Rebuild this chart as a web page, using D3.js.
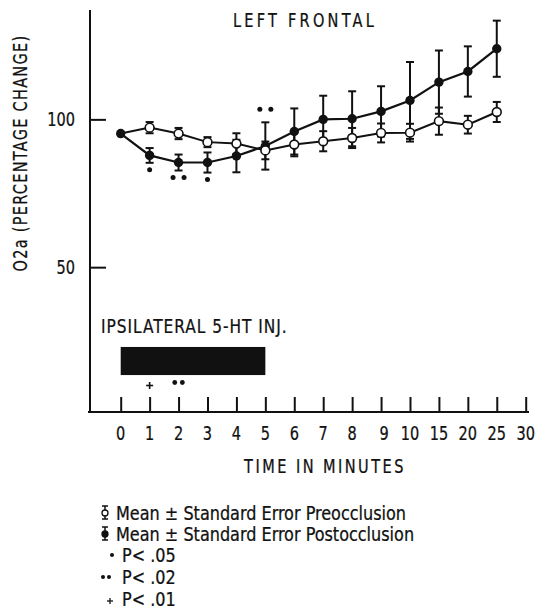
<!DOCTYPE html>
<html><head><meta charset="utf-8">
<script src="https://cdn.jsdelivr.net/npm/d3@7"></script>
<style>
html,body{margin:0;padding:0;background:#fff;}
svg text{font-family:"DejaVu Sans Condensed","DejaVu Sans",sans-serif;fill:#111;stroke:#111;stroke-width:0.25px;}
</style></head>
<body><svg id="c" width="538" height="615"></svg>
<script>
const categories = ['0','1','2','3','4','5','6','7','8','9','10','15','20','25','30'];
const dataTimes = ['0','1','2','3','4','5','6','7','8','9','10','15','20','25'];
const preMean  = [95.2, 97.2, 95.2, 92.3, 91.8, 89.5, 91.5, 92.6, 93.7, 95.4, 95.5, 99.4, 98.2, 102.5];
const preErr   = [0, 1.9, 1.9, 1.7, 3.5, 3.0, 4.0, 3.4, 3.4, 3.2, 3.0, 4.6, 3.0, 3.4];
const postMean = [95.2, 87.8, 85.4, 85.4, 87.6, 91.0, 95.9, 100.0, 100.2, 102.7, 106.4, 112.6, 116.2, 123.9];
const postErr  = [0, 2.5, 2.7, 3.4, 5.5, 8.0, 7.8, 8.0, 9.3, 8.5, 13.0, 10.7, 8.5, 9.5];
const yTicks = [50, 100];
const sigBelow = [{t:'1', n:1}, {t:'2', n:2}, {t:'3', n:1}];
const sigAbove = [{t:'5', n:2}];
const injection = {start:'0', end:'5', top:23, bottom:13.5};
const injSig = [{t:'1', mark:'+'}, {t:'2', mark:'••'}];
const title = 'LEFT FRONTAL';
const xTitle = 'TIME IN MINUTES';
const yTitle = 'O2a (PERCENTAGE CHANGE)';
const injLabel = 'IPSILATERAL 5-HT INJ.';
const legendItems = [
  {type:'pre', label:'Mean \u00B1 Standard Error Preocclusion'},
  {type:'post', label:'Mean \u00B1 Standard Error Postocclusion'},
  {type:'dot1', label:'P< .05'},
  {type:'dot2', label:'P< .02'},
  {type:'plus', label:'P< .01'}
];

const svg = d3.select('#c');
const x = d3.scalePoint().domain(categories).range([120.7, 525.7]);
const y = d3.scaleLinear().domain([1, 137]).range([412, 10]);
const FS = 19;

// text helper: compress horizontally to mimic condensed typeface
function txt(sel, s, xx, yy, opts){
  opts = opts || {};
  const sx = opts.sx || 0.85;
  const g = sel.append('g').attr('transform',`translate(${xx},${yy})${opts.rot?` rotate(${opts.rot})`:''} scale(${sx},1)`);
  return g.append('text').attr('x',0).attr('y',0).attr('dy','0.36em')
    .attr('text-anchor',opts.anchor||'start').attr('font-size',opts.fs||FS)
    .attr('letter-spacing',opts.ls||0).text(s);
}

// axes
svg.append('line').attr('x1',90).attr('x2',90).attr('y1',y(137)).attr('y2',y(1)+1).attr('stroke','#111').attr('stroke-width',2);
svg.append('line').attr('x1',88).attr('x2',529).attr('y1',412).attr('y2',412).attr('stroke','#111').attr('stroke-width',2);
const yAx = d3.axisRight(y).tickValues(yTicks).tickSize(16).tickFormat('');
const gy = svg.append('g').attr('transform','translate(90,0)').call(yAx);
gy.select('.domain').remove();
gy.selectAll('.tick line').attr('stroke','#111').attr('stroke-width',2);
yTicks.forEach(d=>txt(svg, d, 75, y(d), {anchor:'end', fs:19}));
const xAx = d3.axisTop(x).tickSize(15).tickFormat('');
const gx = svg.append('g').attr('transform','translate(0,412)').call(xAx);
gx.select('.domain').remove();
gx.selectAll('.tick line').attr('stroke','#111').attr('stroke-width',2);
categories.forEach(d=>txt(svg, d, x(d)+(d==='9'?3:0), 433, {anchor:'middle', fs:19}));

txt(svg, xTitle, 325, 466, {anchor:'middle', ls:2.9, fs:19});
txt(svg, yTitle, 20, 153, {anchor:'middle', ls:1.5, fs:19, rot:-90});
txt(svg, title, 305, 20, {anchor:'middle', ls:3.8, fs:19});

// series
const pre = dataTimes.map((t,i)=>({t, m:preMean[i], e:preErr[i]}));
const post = dataTimes.map((t,i)=>({t, m:postMean[i], e:postErr[i]}));
const line = d3.line().x(d=>x(d.t)).y(d=>y(d.m));
svg.append('path').datum(pre).attr('d',line).attr('fill','none').attr('stroke','#111').attr('stroke-width',2);
svg.append('path').datum(post).attr('d',line).attr('fill','none').attr('stroke','#111').attr('stroke-width',2.2);

function errBars(data){
  const g = svg.append('g');
  const f = data.filter(d=>d.e>0);
  g.selectAll('line.v').data(f).enter().append('line').attr('class','v')
    .attr('x1',d=>x(d.t)).attr('x2',d=>x(d.t)).attr('y1',d=>y(d.m+d.e)).attr('y2',d=>y(d.m-d.e))
    .attr('stroke','#111').attr('stroke-width',2);
  [1,-1].forEach((s,k)=>{
    g.selectAll('line.cap'+k).data(f).enter().append('line').attr('class','cap'+k)
      .attr('x1',d=>x(d.t)-4).attr('x2',d=>x(d.t)+4)
      .attr('y1',d=>y(d.m+s*d.e)).attr('y2',d=>y(d.m+s*d.e))
      .attr('stroke','#111').attr('stroke-width',2);
  });
}
errBars(post);
errBars(pre);
svg.selectAll('circle.post').data(post).enter().append('circle').attr('class','post')
  .attr('cx',d=>x(d.t)).attr('cy',d=>y(d.m)).attr('r',4.7).attr('fill','#111');
svg.selectAll('circle.pre').data(pre.slice(1)).enter().append('circle').attr('class','pre')
  .attr('cx',d=>x(d.t)).attr('cy',d=>y(d.m)).attr('r',4.4).attr('fill','#fff').attr('stroke','#111').attr('stroke-width',1.6);

// significance marks
function dots(cx, cy, n){
  const offs = n===1?[0]:[-5.5,5.5];
  offs.forEach(o=>svg.append('circle').attr('cx',cx+o).attr('cy',cy).attr('r',2.5).attr('fill','#111'));
}
sigBelow.forEach(s=>{const d=post.find(p=>p.t===s.t); dots(x(s.t), y(d.m-d.e)+7, s.n);});
sigAbove.forEach(s=>{const d=post.find(p=>p.t===s.t); dots(x(s.t), y(d.m+d.e)-13, s.n);});

// injection
txt(svg, injLabel, 101, 326, {fs:19, ls:1.1, sx:0.9});
svg.append('rect').attr('x',x(injection.start)).attr('width',x(injection.end)-x(injection.start))
  .attr('y',y(injection.top)).attr('height',y(injection.bottom)-y(injection.top)).attr('fill','#111');
injSig.forEach(s=>{
  if(s.mark==='+'){
    const cx=x(s.t), cy=385.5;
    svg.append('line').attr('x1',cx-3.5).attr('x2',cx+3.5).attr('y1',cy).attr('y2',cy).attr('stroke','#111').attr('stroke-width',1.6);
    svg.append('line').attr('x1',cx).attr('x2',cx).attr('y1',cy-3.5).attr('y2',cy+3.5).attr('stroke','#111').attr('stroke-width',1.6);
  } else {
    [-3.8,3.8].forEach(o=>svg.append('circle').attr('cx',x(s.t)+o).attr('cy',382.5).attr('r',2.4).attr('fill','#111'));
  }
});

// legend
const legendY = [513, 534, 555, 577, 599];
const lg = svg.append('g');
legendItems.forEach((it,i)=>{
  const cy = legendY[i];
  const tx = it.type==='pre'||it.type==='post' ? 116 : 122;
  txt(lg, it.label, tx, cy, {fs:19, sx:0.94});
  if(it.type==='pre'||it.type==='post'){
    const ix=105;
    lg.append('line').attr('x1',ix).attr('x2',ix).attr('y1',cy-7).attr('y2',cy+6).attr('stroke','#111').attr('stroke-width',1.5);
    [cy-7,cy+6].forEach(yy=>lg.append('line').attr('x1',ix-3).attr('x2',ix+3).attr('y1',yy).attr('y2',yy).attr('stroke','#111').attr('stroke-width',1.5));
    lg.append('circle').attr('cx',ix).attr('cy',cy).attr('r',3)
      .attr('fill',it.type==='pre'?'#fff':'#111').attr('stroke','#111').attr('stroke-width',1.3);
  } else if(it.type==='dot1'){
    lg.append('circle').attr('cx',112).attr('cy',cy).attr('r',2).attr('fill','#111');
  } else if(it.type==='dot2'){
    [103,109].forEach(cx=>lg.append('circle').attr('cx',cx).attr('cy',cy).attr('r',2).attr('fill','#111'));
  } else {
    lg.append('line').attr('x1',107).attr('x2',113).attr('y1',cy+2).attr('y2',cy+2).attr('stroke','#111').attr('stroke-width',1.3);
    lg.append('line').attr('x1',110).attr('x2',110).attr('y1',cy-1).attr('y2',cy+5).attr('stroke','#111').attr('stroke-width',1.3);
  }
});
</script></body></html>
